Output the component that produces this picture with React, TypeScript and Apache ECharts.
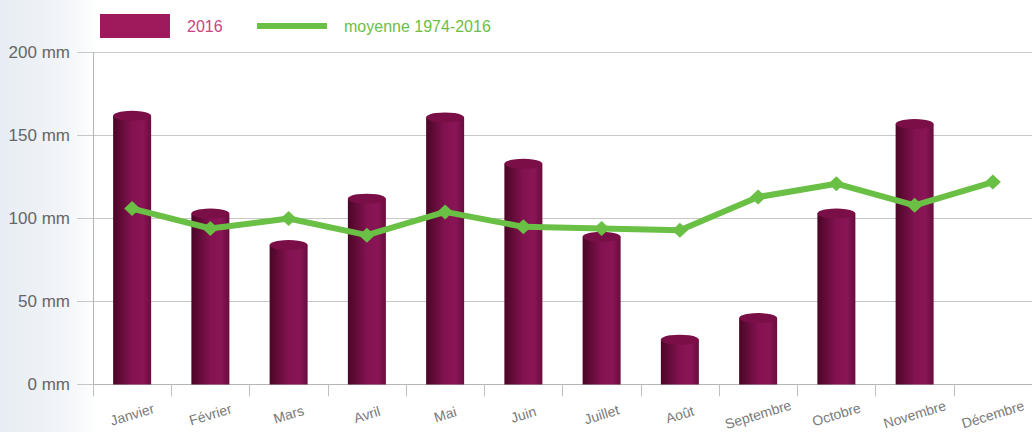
import React, { useEffect, useRef } from "react";
import * as echarts from "echarts";

const months = ["Janvier", "Février", "Mars", "Avril", "Mai", "Juin", "Juillet", "Août", "Septembre", "Octobre", "Novembre", "Décembre"];
const rain2016 = [162, 103, 84, 112, 161, 133, 89, 27, 40, 103, 157, null];
const average = [106, 94, 100, 90, 104, 95, 94, 93, 113, 121, 108, 122];
const yTicks = [0, 50, 100, 150, 200];

const FONT = "'Liberation Sans', Arial, sans-serif";

export default function App() {
  const ref = useRef<HTMLDivElement>(null);
  useEffect(() => {
    const chart = echarts.init(ref.current!, null, { renderer: "svg" });
    const barGradient = new echarts.graphic.LinearGradient(0, 0, 1, 0, [
      { offset: 0, color: "#4a0626" },
      { offset: 0.5, color: "#831251" },
      { offset: 0.78, color: "#8a1556" },
      { offset: 1, color: "#680d3e" },
    ]);
    chart.setOption({
      animation: false,
      grid: { left: 93, right: -7, top: 52.7, bottom: 46, containLabel: false },
      legend: [
        {
          left: 100,
          top: 14,
          padding: 0,
          itemWidth: 70,
          itemHeight: 24,
          icon: "rect",
          data: ["2016"],
          textStyle: { color: "#c8457f", fontSize: 16, fontFamily: FONT, padding: [0, 0, 0, 12] },
          selectedMode: false,
        },
        {
          left: 257,
          top: 14,
          padding: 0,
          itemWidth: 70,
          itemHeight: 6,
          icon: "rect",
          data: ["moyenne 1974-2016"],
          textStyle: { color: "#6abf45", fontSize: 16, fontFamily: FONT, padding: [0, 0, 0, 12], lineHeight: 24 },
          selectedMode: false,
        },
      ],
      xAxis: {
        type: "category",
        data: months,
        boundaryGap: true,
        axisLine: { show: true, lineStyle: { color: "#b5b5b5", width: 1 } },
        axisTick: { show: true, length: 12, lineStyle: { color: "#c0c0c0" } },
        axisLabel: {
          rotate: 17,
          align: "center",
          verticalAlign: "middle",
          margin: 30,
          color: "#7a7a7a",
          fontSize: 14,
          fontFamily: FONT,
          interval: 0,
        },
      },
      yAxis: {
        type: "value",
        min: yTicks[0],
        max: yTicks[yTicks.length - 1],
        interval: 50,
        axisLine: { show: true, lineStyle: { color: "#b5b5b5" } },
        axisTick: { show: true, length: 16, lineStyle: { color: "#c8c8c8" } },
        axisLabel: {
          formatter: (v: number) => `${v} mm`,
          color: "#666",
          fontSize: 17,
          fontFamily: FONT,
          margin: 23,
        },
        splitLine: { show: true, lineStyle: { color: "#c8c8c8", width: 1 } },
      },
      series: [
        {
          name: "2016",
          type: "bar",
          data: rain2016.map((v) => ({ value: v, itemStyle: { color: barGradient } })),
          barWidth: 38,
          itemStyle: { color: "#9e1a5c" },
          z: 2,
        },
        {
          name: "2016-top",
          type: "pictorialBar",
          data: rain2016,
          symbol: "circle",
          symbolSize: [38, 10],
          symbolPosition: "end",
          symbolOffset: [0, "-50%"],
          itemStyle: { color: "#7a0f47" },
          z: 3,
          legendHoverLink: false,
        },
        {
          name: "moyenne 1974-2016",
          type: "line",
          data: average,
          symbol: "diamond",
          symbolSize: [16, 15],
          lineStyle: { color: "#6abf45", width: 6 },
          itemStyle: { color: "#6abf45" },
          z: 5,
        },
      ],
    });
    return () => chart.dispose();
  }, []);
  return (
    <div
      style={{
        position: "fixed",
        left: 0,
        top: 0,
        width: 1032,
        height: 432,
        background: "linear-gradient(to right, #e7edf3 0px, #f1f4f8 60px, #ffffff 100px)",
      }}
    >
      <div ref={ref} style={{ width: 1032, height: 432 }} />
    </div>
  );
}
